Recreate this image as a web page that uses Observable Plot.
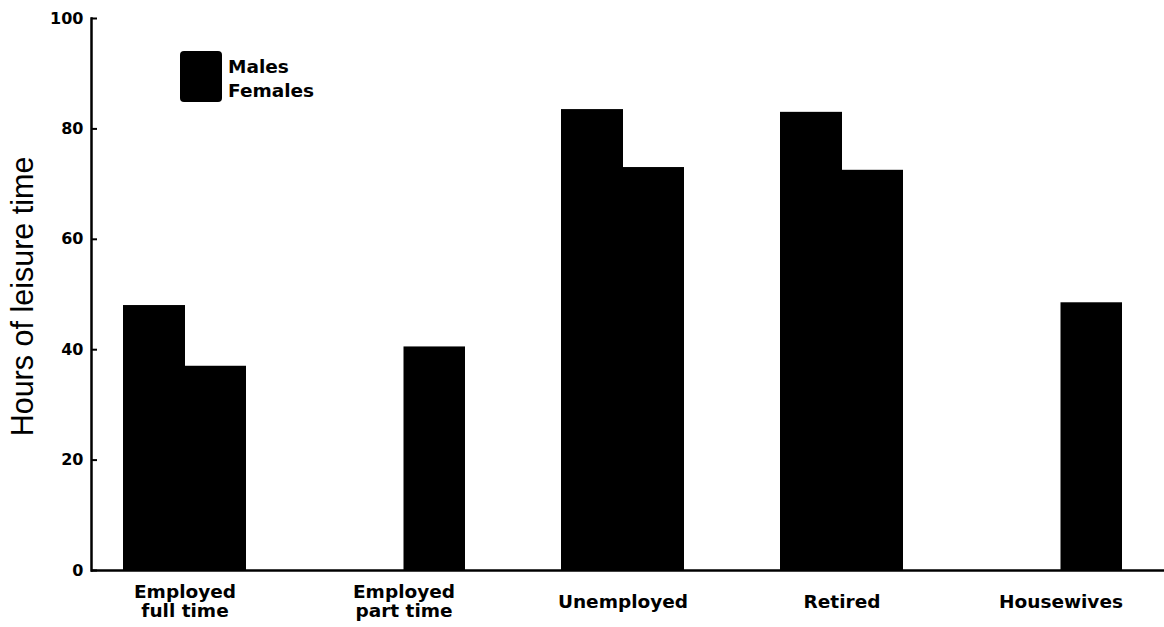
<!DOCTYPE html>
<html>
<head>
<meta charset="utf-8">
<script src="https://cdn.jsdelivr.net/npm/d3@7"></script>
<script src="https://cdn.jsdelivr.net/npm/@observablehq/plot@0.6"></script>
<style>
  html, body { margin: 0; padding: 0; background: #fff; }
  #wrap { position: relative; width: 1164px; height: 627px; overflow: hidden; }
  #legend { position: absolute; left: 180px; top: 51px; font-family: "DejaVu Sans", sans-serif; font-weight: bold; font-size: 18.5px; color: #000; }
  #legend .swatch { position: absolute; left: 0; top: 0; width: 42px; height: 51px; background: #000; border-radius: 4px; }
  #legend .labels { position: absolute; left: 48px; top: 4px; line-height: 24px; white-space: nowrap; }
</style>
</head>
<body>
<div id="wrap"></div>
<script>
// ---- data ----
const categories = ["Employed\nfull time", "Employed\npart time", "Unemployed", "Retired", "Housewives"];
const males   = [48, null, 83.5, 83, null];
const females = [37, 40.5, 73, 72.5, 48.5];
const seriesNames = ["Males", "Females"];
const yTicks = [0, 20, 40, 60, 80, 100];
const yLabel = "Hours of leisure time";

const maleRows = categories.map((c, i) => ({category: c, sex: seriesNames[0], value: males[i]}));
const femaleRows = categories.map((c, i) => ({category: c, sex: seriesNames[1], value: females[i]}));

const chart = Plot.plot({
  width: 1164,
  height: 627,
  marginLeft: 91,
  marginRight: 0,
  marginTop: 18,
  marginBottom: 57,
  style: {background: "#fff", color: "#000", fontFamily: "DejaVu Sans, sans-serif"},
  x: {domain: categories, paddingInner: 0.44, paddingOuter: 0.164, align: 0.43, axis: null},
  y: {domain: [0, 100], axis: null},
  marks: [
    Plot.barY(maleRows, {x: "category", y: "value", fill: "#000", insetRight: 61, insetLeft: 0}),
    Plot.barY(femaleRows, {x: "category", y: "value", fill: "#000", insetLeft: 61.5, insetRight: 0}),
    Plot.axisY(yTicks, {tickSize: -6, tickPadding: 14, fontSize: 16, fontWeight: "bold", label: null, strokeWidth: 2}),
    Plot.frame({anchor: "left", strokeWidth: 2.5}),
    Plot.ruleY([0], {strokeWidth: 2.5}),
    Plot.text(categories, {x: d => d, frameAnchor: "bottom", lineAnchor: "middle", dy: 31, fontSize: 18.5, fontWeight: "bold", lineHeight: 1.05}),
    Plot.text([yLabel], {frameAnchor: "left", rotate: -90, dx: -68, dy: 2, fontSize: 30.5, fontFamily: "Liberation Sans", textAnchor: "middle", lineAnchor: "middle"})
  ]
});

const wrap = document.getElementById("wrap");
wrap.appendChild(chart);

const legend = document.createElement("div");
legend.id = "legend";
legend.innerHTML = '<div class="swatch"></div><div class="labels">' + seriesNames.join("<br>") + '</div>';
wrap.appendChild(legend);
</script>
</body>
</html>
